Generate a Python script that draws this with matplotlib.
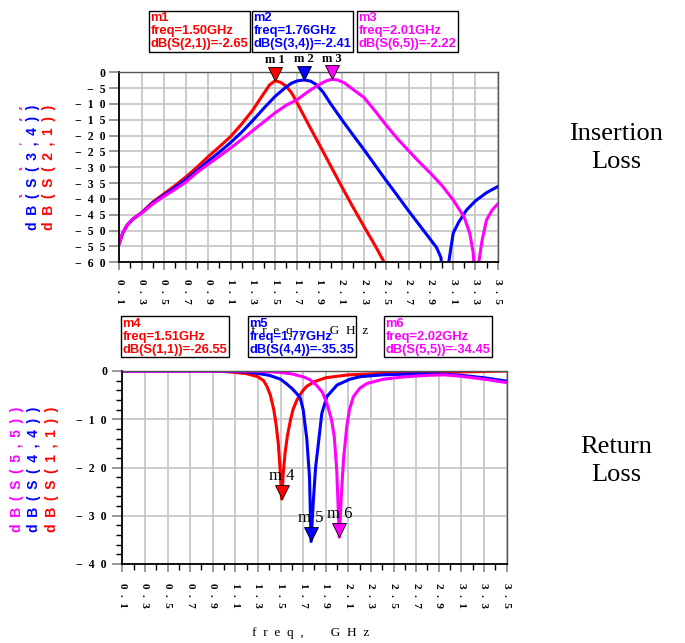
import numpy as np
import matplotlib
matplotlib.use('Agg')
import matplotlib.pyplot as plt
from matplotlib.ticker import FixedLocator
from matplotlib.transforms import offset_copy, Bbox, TransformedBbox

W, H = 685, 643

# insertion loss traces (GHz, dB)
f21 = [0.10, 0.13, 0.17, 0.22, 0.30, 0.40, 0.50, 0.60, 0.70, 0.80, 0.90, 1.00, 1.10, 1.20, 1.30, 1.35,
       1.40, 1.45, 1.50, 1.55, 1.60, 1.65, 1.70, 1.80, 1.90, 2.00, 2.10, 2.20, 2.30, 2.40, 2.48, 2.52]
s21 = [-54.0, -50.8, -48.3, -46.4, -44.3, -41.0, -38.4, -35.8, -33.0, -29.9, -26.6, -23.5, -20.3, -16.3, -11.9, -9.2,
       -6.6, -4.0, -2.65, -3.2, -4.4, -6.6, -9.8, -16.5, -23.0, -29.6, -36.2, -42.6, -48.8, -54.8, -60.0, -63.0]

f34 = [0.10, 0.13, 0.17, 0.22, 0.30, 0.40, 0.50, 0.60, 0.70, 0.80, 0.90, 1.00, 1.10, 1.20, 1.30, 1.40,
       1.50, 1.60, 1.65, 1.70, 1.76, 1.82, 1.87, 1.93, 2.00, 2.10, 2.20, 2.30, 2.40, 2.50, 2.60, 2.70,
       2.80, 2.90, 2.95, 2.99, 3.025, 3.06, 3.10, 3.15, 3.22, 3.30, 3.40, 3.50]
s34 = [-54.0, -50.8, -48.3, -46.4, -44.4, -41.3, -38.8, -36.4, -33.8, -31.0, -28.0, -25.2, -22.2, -18.9, -15.2, -11.3,
       -7.6, -4.6, -3.4, -2.7, -2.41, -2.8, -3.9, -6.2, -10.0, -15.0, -19.8, -24.5, -29.4, -34.3, -39.0, -43.8,
       -48.4, -53.0, -55.3, -58.5, -72.0, -60.0, -50.8, -47.3, -43.5, -40.6, -38.0, -36.1]

f65 = [0.10, 0.13, 0.17, 0.22, 0.30, 0.40, 0.50, 0.60, 0.70, 0.80, 0.90, 1.00, 1.10, 1.20, 1.30, 1.40,
       1.50, 1.60, 1.70, 1.80, 1.90, 1.96, 2.01, 2.06, 2.12, 2.20, 2.30, 2.40, 2.50, 2.60, 2.70, 2.80,
       2.90, 3.00, 3.10, 3.20, 3.25, 3.28, 3.305, 3.33, 3.36, 3.40, 3.45, 3.50]
s65 = [-54.0, -50.8, -48.3, -46.4, -44.5, -41.6, -39.2, -37.0, -34.6, -31.6, -29.0, -26.5, -23.9, -21.2, -18.4, -15.6,
       -12.8, -10.4, -8.6, -6.0, -3.8, -2.7, -2.22, -2.4, -3.3, -5.4, -8.0, -12.3, -16.8, -21.0, -24.8, -28.5,
       -32.0, -35.8, -40.3, -45.8, -51.0, -57.0, -70.0, -60.0, -53.0, -46.6, -43.5, -41.6]

# return loss traces
f11 = [0.10, 0.60, 0.90, 1.00, 1.10, 1.20, 1.30, 1.35, 1.38, 1.41, 1.44, 1.46, 1.48, 1.495, 1.51, 1.525,
       1.54, 1.56, 1.585, 1.61, 1.645, 1.69, 1.73, 1.80, 1.90, 2.10, 2.40, 2.80, 3.20, 3.50]
s11 = [0.0, 0.0, -0.05, -0.1, -0.3, -0.55, -1.2, -2.0, -3.2, -5.0, -8.0, -11.0, -15.0, -20.0, -26.55, -21.0,
       -17.0, -13.5, -10.5, -8.0, -6.0, -4.3, -3.2, -2.2, -1.4, -0.8, -0.5, -0.3, -0.15, 0.0]

f44 = [0.10, 0.90, 1.10, 1.20, 1.30, 1.40, 1.50, 1.55, 1.60, 1.64, 1.673, 1.70, 1.732, 1.756, 1.77, 1.79,
       1.81, 1.835, 1.865, 1.91, 2.00, 2.115, 2.20, 2.40, 2.70, 2.90, 3.10, 3.30, 3.50]
s44 = [0.0, 0.0, -0.1, -0.2, -0.5, -0.9, -1.7, -2.6, -3.6, -4.6, -5.5, -8.0, -14.0, -21.9, -35.35, -27.0,
       -20.0, -15.0, -8.8, -5.3, -2.9, -1.7, -1.2, -0.8, -0.6, -0.6, -0.9, -1.4, -2.1]

f55 = [0.10, 1.20, 1.40, 1.50, 1.60, 1.70, 1.76, 1.82, 1.87, 1.91, 1.95, 1.975, 1.997, 2.02, 2.04, 2.057,
       2.086, 2.11, 2.145, 2.20, 2.263, 2.41, 2.60, 2.80, 2.95, 3.10, 3.30, 3.50]
s55 = [0.0, 0.0, -0.15, -0.3, -0.6, -1.2, -1.8, -3.0, -4.4, -6.7, -10.0, -13.5, -20.5, -34.45, -25.0, -18.4,
       -11.5, -8.0, -5.3, -3.6, -2.6, -1.7, -1.2, -0.9, -0.8, -1.1, -1.7, -2.4]

top_names = ['dB(S(2,1))', 'dB(S(3,4))', 'dB(S(6,5))']
bot_names = ['dB(S(1,1))', 'dB(S(4,4))', 'dB(S(5,5))']
colors = ['#ff0000', '#0000ff', '#ff00ff']

top_mk = ['m1', 'm2', 'm3']
top_mk_f = [1.50, 1.76, 2.01]
top_mk_v = [-2.65, -2.41, -2.22]
bot_mk = ['m4', 'm5', 'm6']
bot_mk_f = [1.51, 1.77, 2.02]
bot_mk_v = [-26.55, -35.35, -34.45]

xt = np.round(np.arange(0.1, 3.51, 0.2), 1)
xm = np.round(np.arange(0.2, 3.5, 0.2), 1)

SERIF = 'Liberation Serif'
SANS = ['Liberation Sans', 'DejaVu Sans']


def px(x, y):
    return x / W, 1 - y / H


def spaced(s, sep='  '):
    return sep.join(s.replace('-', '\u2212'))


def style_axes(ax, yt, ym, ylo, xpad, ypad):
    ax.set_xlim(0.1, 3.5)
    ax.set_ylim(ylo, 0)
    ax.xaxis.set_major_locator(FixedLocator(xt))
    ax.xaxis.set_minor_locator(FixedLocator(xm))
    ax.set_xticklabels([spaced(f'{v:.1f}') for v in xt], rotation=-90,
                       fontfamily=SERIF, fontweight='bold', fontsize=8)
    ax.yaxis.set_major_locator(FixedLocator(yt))
    ax.yaxis.set_minor_locator(FixedLocator(ym))
    ax.set_yticklabels([spaced(str(int(v))) for v in yt],
                       fontfamily=SERIF, fontweight='bold', fontsize=8.5)
    ax.tick_params(axis='x', which='major', direction='out', length=6, width=1.4,
                   color='#999999', pad=xpad)
    ax.tick_params(axis='x', which='minor', direction='out', length=4, width=1, color='black')
    ax.tick_params(axis='y', which='major', direction='out', length=7, width=1.4,
                   color='#999999', pad=ypad)
    ax.tick_params(axis='y', which='minor', direction='out', length=4, width=1, color='black')
    ax.grid(which='major', color='#c4c4c4', lw=1.2)
    ax.set_axisbelow(True)
    for side in ['left', 'bottom']:
        ax.spines[side].set_color('black')
        ax.spines[side].set_linewidth(1.3)
    for side in ['top', 'right']:
        ax.spines[side].set_color('#555555')
        ax.spines[side].set_linewidth(1.0)


def add_markers(ax, names, fs, vs, ms, lsize, lweight):
    for i, (n, f, v) in enumerate(zip(names, fs, vs)):
        tr = offset_copy(ax.transData, fig=fig, x=0, y=ms / 2, units='points')
        ax.plot([f], [v], marker='v', ms=ms, mfc=colors[i], mec='black', mew=0.6,
                transform=tr, clip_on=False, zorder=5)
        ax.annotate(n[0] + ' ' + n[1], xy=(f, v), xytext=(0, ms + 0.5),
                    textcoords='offset points', ha='center', va='bottom',
                    fontfamily=SERIF, fontsize=lsize, fontweight=lweight,
                    annotation_clip=False, zorder=6)


def add_box(x, y, text, color):
    fig.text(*px(x, y), text, ha='left', va='top', color=color, fontfamily=SANS,
             fontweight='bold', fontsize=9.3, linespacing=1.13,
             bbox=dict(boxstyle='square,pad=0.1', fc='none', ec='black', lw=1))


fig = plt.figure(figsize=(W / 100, H / 100), dpi=100)

ax1 = fig.add_axes([119.3 / W, 1 - 262.3 / H, 378.4 / W, 190.0 / H])
for f, s, c in zip([f21, f34, f65], [s21, s34, s65], colors):
    ax1.plot(f, s, color=c, lw=2.2)
style_axes(ax1, list(range(0, -61, -5)), [], -60, 6, 3)
add_markers(ax1, top_mk, top_mk_f, top_mk_v, 10, 9, 'bold')

ax2 = fig.add_axes([122.3 / W, 1 - 564.0 / H, 384.3 / W, 193.0 / H])
for f, s, c in zip([f11, f44, f55], [s11, s44, s55], colors):
    ax2.plot(f, s, color=c, lw=2.2)
style_axes(ax2, [0, -10, -20, -30, -40], list(range(-2, -40, -2)), -40, 8, 4)
add_markers(ax2, bot_mk, bot_mk_f, bot_mk_v, 10.5, 12, 'normal')

# stacked y labels
for xs, names, yc, clip in [([48.5, 32.5, 16.5], top_names, 167, 18.5),
                            ([52, 34, 17], bot_names, 469, 0)]:
    for xx, n, c in zip(xs, names, colors):
        t = fig.text(*px(xx, yc), spaced(n, ' \u2009'), rotation=90, ha='center', va='center',
                     color=c, fontfamily=SANS, fontweight='bold', fontsize=10)
        if clip > 0:
            t.set_clip_box(TransformedBbox(Bbox([[clip / W, 0], [1, 1]]), fig.transFigure))
            t.set_clip_on(True)

xlab = 'f  r  e  q  ,        G  H  z'
fig.text(*px(310, 331), xlab, ha='center', va='center', fontfamily=SERIF, fontsize=9.5)
fig.text(*px(311, 633), xlab, ha='center', va='center', fontfamily=SERIF, fontsize=9.5)

# marker readout boxes
top_box_x = [149, 252, 357]
bot_box_x = [121, 248, 384]
for i in range(3):
    add_box(top_box_x[i] + 1.5, 12,
            f'{top_mk[i]}\nfreq={top_mk_f[i]:.2f}GHz\n{top_names[i]}={top_mk_v[i]:.2f}', colors[i])
    add_box(bot_box_x[i] + 1.5, 317.5,
            f'{bot_mk[i]}\nfreq={bot_mk_f[i]:.2f}GHz\n{bot_names[i]}={bot_mk_v[i]:.2f}', colors[i])

fig.text(*px(616, 148), 'Insertion\nLoss', ha='center', va='center', fontfamily=SERIF,
         fontsize=19, linespacing=1.4)
fig.text(*px(616, 461), 'Return\nLoss', ha='center', va='center', fontfamily=SERIF,
         fontsize=19, linespacing=1.4)

fig.savefig('out.png', dpi=100, facecolor='white')
